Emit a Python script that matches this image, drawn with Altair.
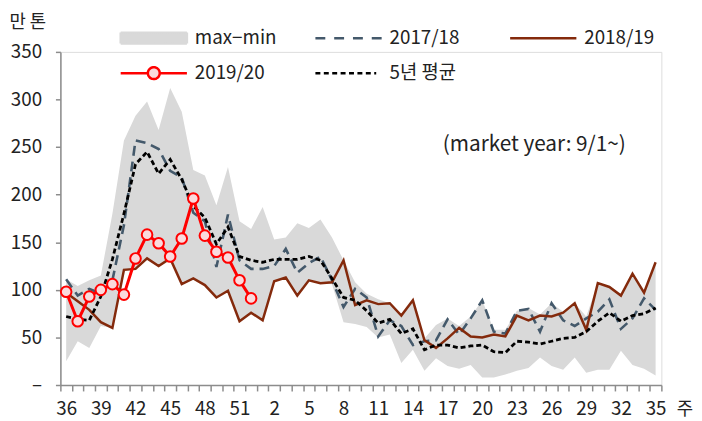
import json
import altair as alt
import pandas as pd

FONT = "Noto Sans CJK KR"
TXT = "#222222"
AXC = "#8c8c8c"

# ---- data ----
weeks = ["36", "37", "38", "39", "40", "41", "42", "43", "44", "45", "46", "47",
         "48", "49", "50", "51", "52", "1", "2", "3", "4", "5", "6", "7", "8",
         "9", "10", "11", "12", "13", "14", "15", "16", "17", "18", "19", "20",
         "21", "22", "23", "24", "25", "26", "27", "28", "29", "30", "31", "32",
         "33", "34", "35"]

range_max = [111, 104, 110, 115, 180, 257, 283, 298, 268, 312, 287, 226, 220,
             189, 229, 172, 164, 187, 153, 155, 170, 165, 174, 155, 131, 108,
             96, 90, 86, 73, 89, 49, 63, 70, 62, 72, 89, 58, 58, 78, 81, 74,
             86, 77, 86, 72, 107, 103, 94, 117, 97, 129]

range_min = [25, 46, 39, 62, 60, 121, 122, 133, 125, 133, 106, 112, 105, 92,
             99, 67, 76, 68, 109, 113, 94, 110, 107, 106, 66, 64, 61, 50, 53,
             23, 37, 15, 28, 20, 17, 21, 8, 8, 11, 15, 18, 29, 20, 16, 29, 13,
             16, 16, 36, 21, 17, 10]

y2017_18 = [111, 94, 101, 96, 110, 168, 257, 254, 248, 225, 218, 181, 172,
            124, 179, 131, 122, 122, 125, 143, 118, 128, 135, 110, 82, 101,
            92, 51, 68, 62, 42, 46, 47, 69, 53, 70, 89, 56, 54, 78, 80, 56,
            86, 68, 62, 70, 77, 90, 59, 70, 91, 79]

y2018_19 = [97, 88, 79, 66, 60, 121, 122, 133, 125, 133, 106, 112, 105, 92,
            99, 67, 76, 68, 109, 113, 94, 110, 107, 108, 131, 84, 89, 85, 86,
            73, 89, 47, 39, 49, 60, 51, 50, 53, 51, 73, 68, 73, 72, 76, 86,
            58, 107, 103, 94, 117, 97, 129]

y2019_20 = [98, 67, 93, 100, 106, 95, 133, 158, 149, 135, 154, 196, 157, 140,
            134, 110, 91]

avg_5yr = [72, 69, 68, 93, 132, 180, 232, 245, 222, 237, 216, 188, 176, 148,
           166, 135, 131, 129, 132, 132, 132, 135, 131, 112, 92, 89, 78, 65,
           69, 54, 59, 37, 42, 42, 39, 41, 42, 35, 34, 46, 45, 43, 46, 49, 50,
           56, 67, 76, 67, 73, 75, 81]

x_tick_labels = ["36", "39", "42", "45", "48", "51", "2", "5", "8", "11", "14",
                 "17", "20", "23", "26", "29", "32", "35"]
y_tick_values = [0, 50, 100, 150, 200, 250, 300, 350]

series_names = ["max\u2212min", "2017/18", "2018/19", "2019/20", "5년 평균"]

# ---- tables ----
df = pd.DataFrame({
    "week": weeks,
    "max": range_max,
    "min": range_min,
    "s1718": y2017_18,
    "s1819": y2018_19,
    "s1920": y2019_20 + [None] * (len(weeks) - len(y2019_20)),
    "avg": avg_5yr,
})
legend_df = pd.DataFrame({"series": series_names})

# ---- axes / scales ----
x_label_expr = ("indexof(" + json.dumps(x_tick_labels) +
                ", datum.label) >= 0 ? datum.label : ''")

x_enc = alt.X(
    "week:O", sort=weeks, title="주",
    scale=alt.Scale(type="band", paddingInner=0, paddingOuter=0),
    axis=alt.Axis(
        tickBand="extent", labelExpr=x_label_expr, labelAngle=0,
        labelOverlap=False, labelFont=FONT, labelFontSize=19, labelColor=TXT,
        labelPadding=9, tickSize=6, tickColor=AXC, tickWidth=1.5,
        domainColor=AXC, domainWidth=1.5, grid=False,
        titleX=623, titleY=25, titleAlign="left", titleBaseline="middle",
        titleFont=FONT, titleFontSize=18, titleFontWeight="normal",
        titleColor=TXT, titleAngle=0,
    ),
)

y_scale = alt.Scale(domain=[0, 350], nice=False)
y_axis = alt.Axis(
    values=y_tick_values,
    labelExpr="datum.value == 0 ? '\u2013' : datum.label",
    labelFont=FONT, labelFontSize=19, labelColor=TXT, labelPadding=14,
    tickSize=5, tickColor=AXC, tickWidth=1.5, domainColor=AXC,
    domainWidth=1.5, grid=False,
    titleAngle=0, titleX=-52, titleY=-30, titleAlign="left",
    titleBaseline="middle", titleFont=FONT, titleFontSize=18,
    titleFontWeight="normal", titleColor=TXT,
)


def yenc(field):
    return alt.Y(field + ":Q", scale=y_scale, axis=y_axis, title="만 톤")


base = alt.Chart(df).encode(x=x_enc)

band = base.mark_area(color="#d9d9d9", opacity=1).encode(
    y=yenc("min"), y2="max")

line_1718 = base.mark_line(color="#44596b", strokeWidth=2.6,
                           strokeDash=[10, 6]).encode(y=yenc("s1718"))
line_1819 = base.mark_line(color="#842a0c", strokeWidth=2.5).encode(
    y=yenc("s1819"))
line_avg = base.mark_line(color="#000000", strokeWidth=2.8,
                          strokeDash=[5, 3]).encode(y=yenc("avg"))
line_1920 = base.mark_line(color="#ff0000", strokeWidth=3).encode(
    y=yenc("s1920"))
pts_1920 = base.mark_point(filled=True, fill="#fadadd", stroke="#ff0000",
                           strokeWidth=2, size=115, opacity=1).encode(
    y=yenc("s1920"))

# ---- legend (built by Vega-Lite from the series scale) ----
leg = alt.Legend(
    title=None, orient="none", legendX=61, legendY=-26,
    direction="horizontal", columns=3, gridAlign="all",
    columnPadding=34, rowPadding=13, padding=0,
    symbolSize=400, symbolStrokeWidth=2.5, symbolOpacity=1,
    labelOffset=52, labelFont=FONT, labelFontSize=19, labelColor=TXT,
    labelLimit=300,
)
shape_range = [
    "M-1.15,-0.55H5.55V0.55H-1.15Z",
    "M-1.15,0H5.55",
    "M-1.15,0H5.55",
    "M-1.15,0H1.6A0.6,0.6 0 1,1 2.8,0A0.6,0.6 0 1,1 1.6,0M2.8,0H5.55",
    "M-1.15,0H5.0",
]
legend_layer = alt.Chart(legend_df).transform_filter("false").mark_point(
    opacity=1).encode(
    fill=alt.Fill("series:N", legend=leg, scale=alt.Scale(
        domain=series_names,
        range=["#d9d9d9", "transparent", "transparent", "#fadadd",
               "transparent"])),
    stroke=alt.Stroke("series:N", legend=leg, scale=alt.Scale(
        domain=series_names,
        range=["#d9d9d9", "#44596b", "#842a0c", "#ff0000", "#000000"])),
    shape=alt.Shape("series:N", legend=leg, scale=alt.Scale(
        domain=series_names, range=shape_range)),
    strokeDash=alt.StrokeDash("series:N", legend=leg, scale=alt.Scale(
        domain=series_names,
        range=[[1, 0], [10, 9], [1, 0], [1, 0], [5, 3.5]])),
)

chart = alt.layer(
    band, line_1718, line_1819, line_avg, line_1920, pts_1920, legend_layer
).properties(
    width=608, height=337,
    padding={"left": 53, "top": 42, "right": 33, "bottom": 34},
    autosize=alt.AutoSizeParams(type="none"),
    title=alt.Title("(market year: 9/1~)", anchor="end", frame="group",
                    dx=-36, dy=158, baseline="middle", font=FONT,
                    fontSize=21, fontWeight="normal", color=TXT),
).configure_view(stroke=None).configure(background="white")

chart.save("out.html", embed_options={"renderer": "svg", "actions": False})
